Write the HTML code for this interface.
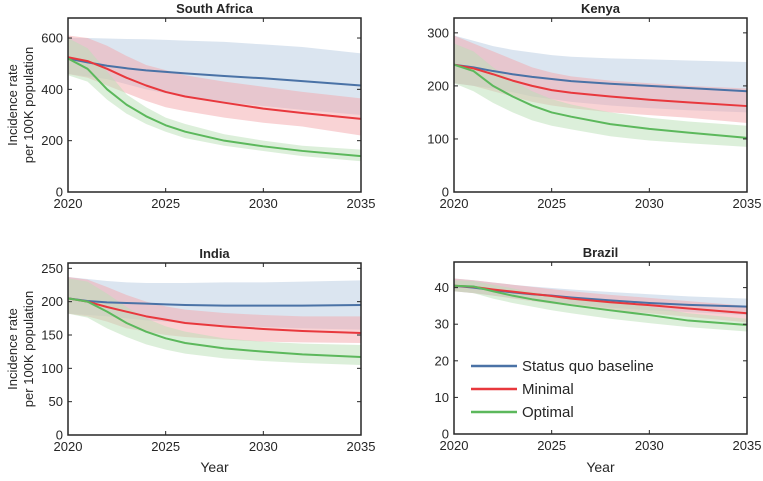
<!DOCTYPE html>
<html><head><meta charset="utf-8"><style>
body{margin:0;background:#fff}
svg text{font-family:"Liberation Sans",Arial,sans-serif;fill:#262626}
</style></head><body>
<svg id="chart" width="763" height="476" xmlns="http://www.w3.org/2000/svg"></svg>
<script>
const years=[2020,2021,2022,2023,2024,2025,2026,2028,2030,2032,2035];
const xTicks=[2020,2025,2030,2035];
const saBlue=[520,505,492,482,474,468,462,452,443,432,415];
const saBlueLo=[460,450,440,420,400,385,370,350,335,320,300];
const saBlueHi=[600,600,598,596,595,593,590,585,575,565,540];
const saRed=[525,510,480,445,415,390,372,348,325,308,285];
const saRedLo=[460,445,415,385,355,330,315,290,270,255,220];
const saRedHi=[610,600,570,530,495,475,455,430,410,390,365];
const saGreen=[520,480,400,340,295,260,235,200,178,160,140];
const saGreenLo=[455,430,360,305,265,235,210,180,160,140,120];
const saGreenHi=[600,560,470,380,330,290,265,225,200,180,165];
const keBlue=[240,235,228,222,217,213,209,204,200,196,190];
const keBlueLo=[205,200,195,188,180,175,170,163,158,154,150];
const keBlueHi=[295,285,275,268,263,258,255,252,250,248,245];
const keRed=[240,233,222,210,200,192,187,180,174,169,162];
const keRedLo=[205,200,190,180,170,163,158,150,145,140,130];
const keRedHi=[295,280,265,250,235,225,218,210,205,200,195];
const keGreen=[240,228,200,180,163,150,142,128,119,112,102];
const keGreenLo=[205,190,168,150,135,125,118,105,97,92,85];
const keGreenHi=[280,265,235,210,190,175,165,150,140,133,125];
const inBlue=[205,201,199,198,197,196,195,194,194,194,195];
const inBlueLo=[182,180,178,175,172,170,168,165,162,160,158];
const inBlueHi=[237,234,231,229,228,228,228,229,229,230,232];
const inRed=[205,200,192,185,178,173,168,163,159,156,153];
const inRedLo=[182,178,170,160,155,150,147,143,140,139,138];
const inRedHi=[237,233,222,210,200,193,188,183,180,178,178];
const inGreen=[205,200,185,168,155,145,138,130,125,121,117];
const inGreenLo=[182,176,160,147,136,128,122,115,111,108,105];
const inGreenHi=[235,230,212,192,175,163,155,145,140,137,135];
const brBlue=[40.5,40,39.3,38.7,38.2,37.8,37.3,36.5,35.8,35.3,34.8];
const brBlueLo=[39,38.5,37.8,37.2,36.6,36,35.5,34.5,33.8,33.3,32.5];
const brBlueHi=[42.5,42,41.4,40.8,40.3,39.9,39.5,38.8,38.2,37.6,37];
const brRed=[40.5,40.2,39.5,38.9,38.3,37.7,37,36,35.2,34.3,33];
const brRedLo=[39,38.5,37.8,37,36.3,35.6,35,33.8,33,32,30.5];
const brRedHi=[42.5,42,41.4,40.8,40.2,39.6,39,38,37.2,36.3,35];
const brGreen=[40.5,40.3,39,37.8,36.8,36,35.2,33.8,32.5,31,29.8];
const brGreenLo=[39,38.5,37,35.8,34.8,33.8,33,31.5,30.3,29.2,28];
const brGreenHi=[42,41.8,40.8,39.8,38.8,38,37.2,36,34.8,33,31.5];
const saTicks=[0,200,400,600],keTicks=[0,100,200,300],inTicks=[0,50,100,150,200,250],brTicks=[0,10,20,30,40];

const NS="http://www.w3.org/2000/svg";
const svg=document.getElementById('chart');
function mk(tag,attrs,parent,txt){const e=document.createElementNS(NS,tag);for(const k in attrs)e.setAttribute(k,attrs[k]);if(txt!==undefined)e.textContent=txt;(parent||svg).appendChild(e);return e;}
const colors={blue:['#4a72a6','#b8cce2'],red:['#e8383d','#f4a7ab'],green:['#5cb85c','#b9e0b6']};
const panels=[
 {name:'south-africa',title:'South Africa',x0:68,x1:361,y0:18,y1:192,ymax:678,ticks:saTicks,ylab:true,xlab:false,s:{blue:[saBlue,saBlueLo,saBlueHi],red:[saRed,saRedLo,saRedHi],green:[saGreen,saGreenLo,saGreenHi]}},
 {name:'kenya',title:'Kenya',x0:454,x1:747,y0:18,y1:192,ymax:328,ticks:keTicks,ylab:false,xlab:false,s:{blue:[keBlue,keBlueLo,keBlueHi],red:[keRed,keRedLo,keRedHi],green:[keGreen,keGreenLo,keGreenHi]}},
 {name:'india',title:'India',x0:68,x1:361,y0:263,y1:435,ymax:258,ticks:inTicks,ylab:true,xlab:true,s:{blue:[inBlue,inBlueLo,inBlueHi],red:[inRed,inRedLo,inRedHi],green:[inGreen,inGreenLo,inGreenHi]}},
 {name:'brazil',title:'Brazil',x0:454,x1:747,y0:262,y1:434,ymax:47,ticks:brTicks,ylab:false,xlab:true,legend:true,s:{blue:[brBlue,brBlueLo,brBlueHi],red:[brRed,brRedLo,brRedHi],green:[brGreen,brGreenLo,brGreenHi]}}
];
panels.forEach(p=>{
 const g=mk('g',{});
 
 
 const X=v=>p.x0+(v-2020)/15*(p.x1-p.x0);
 const Y=v=>p.y1-v/p.ymax*(p.y1-p.y0);
 ['blue','red','green'].forEach(k=>{
  const [m,lo,hi]=p.s[k];
  let d='M'+years.map((yr,i)=>X(yr)+','+Y(hi[i])).join('L');
  d+='L'+years.slice().reverse().map((yr,j)=>{const i=years.length-1-j;return X(yr)+','+Y(lo[i]);}).join('L')+'Z';
  const b=mk('path',{d:d,fill:colors[k][1],'fill-opacity':0.5,stroke:'none'},g);
  
  
 });
 ['blue','red','green'].forEach(k=>{
  const m=p.s[k][0];
  const l=mk('polyline',{points:years.map((yr,i)=>X(yr)+','+Y(m[i])).join(' '),fill:'none',stroke:colors[k][0],'stroke-width':2,'stroke-linejoin':'round'},g);
  
  
 });
 const box=mk('rect',{x:p.x0,y:p.y0,width:p.x1-p.x0,height:p.y1-p.y0,fill:'none',stroke:'#262626','stroke-width':1.5},g);
 
 
 p.ticks.forEach(t=>{
  const y=Y(t);
  mk('line',{x1:p.x0,x2:p.x0+4,y1:y,y2:y,stroke:'#262626'},g);
  mk('line',{x1:p.x1,x2:p.x1-4,y1:y,y2:y,stroke:'#262626'},g);
  const tl=mk('text',{x:p.x0-5,y:y+4.5,'text-anchor':'end','font-size':13},g,t);
  
  
 });
 xTicks.forEach(t=>{
  const x=X(t);
  mk('line',{x1:x,x2:x,y1:p.y1,y2:p.y1-4,stroke:'#262626'},g);
  mk('line',{x1:x,x2:x,y1:p.y0,y2:p.y0+4,stroke:'#262626'},g);
  const tl=mk('text',{x:x,y:p.y1+16,'text-anchor':'middle','font-size':13},g,t);
  
  
 });
 const ti=mk('text',{x:(p.x0+p.x1)/2,y:p.y0-5,'text-anchor':'middle','font-size':13,'font-weight':'bold',fill:'#000'},g,p.title);
 
 
 if(p.ylab){
  const cy=(p.y0+p.y1)/2;
  const a=mk('text',{x:0,y:0,transform:`translate(17,${cy}) rotate(-90)`,'text-anchor':'middle','font-size':13},g,'Incidence rate');
  
  
  const b=mk('text',{x:0,y:0,transform:`translate(33,${cy}) rotate(-90)`,'text-anchor':'middle','font-size':13},g,'per 100K population');
  
  
 }
 if(p.xlab){
  const xl=mk('text',{x:(p.x0+p.x1)/2,y:472,'text-anchor':'middle','font-size':14},g,'Year');
  
  
 }
 if(p.legend){
  const lg=mk('g',{},g);
  
  
  [['blue','Status quo baseline',366],['red','Minimal',389],['green','Optimal',412]].forEach(([k,lab,y])=>{
   const e=mk('g',{},lg);
   
   
   mk('line',{x1:471,x2:517,y1:y,y2:y,stroke:colors[k][0],'stroke-width':2.5},e);
   mk('text',{x:522,y:y+5,'font-size':15},e,lab);
  });
 }
});
</script>
</body></html>
